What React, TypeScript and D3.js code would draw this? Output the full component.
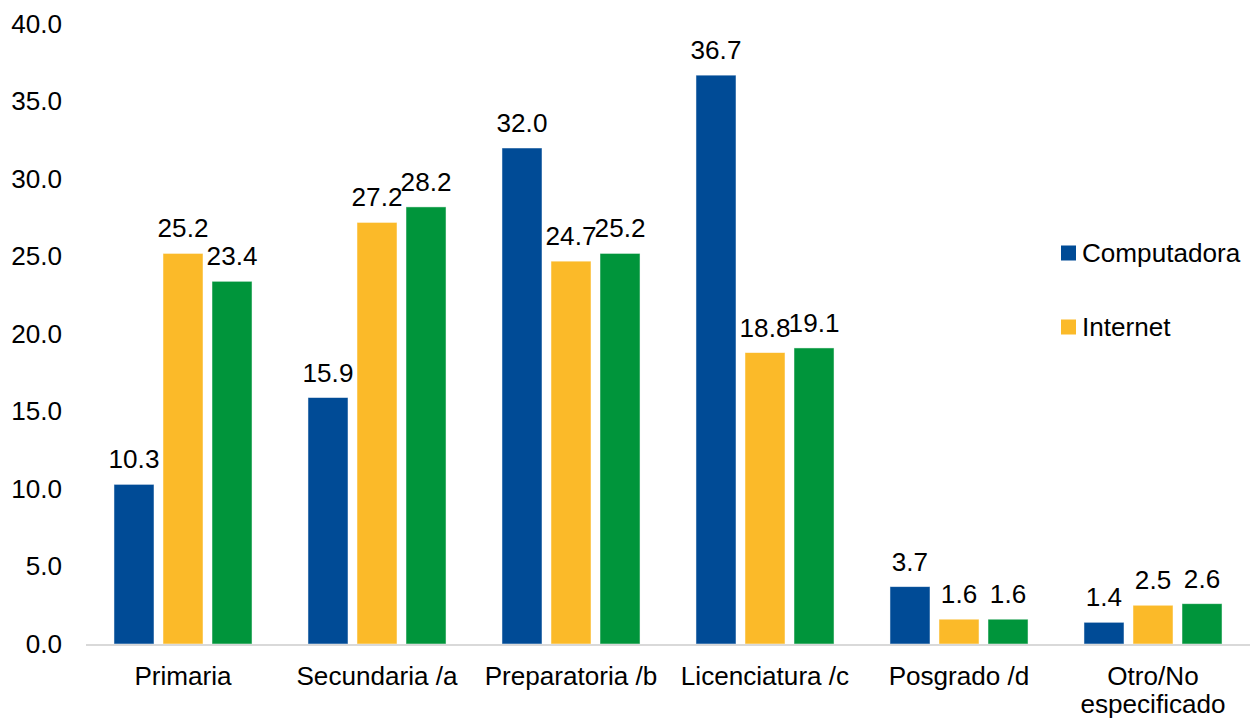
import React from "react";
import * as d3 from "d3";

const categories: string[][] = [
  ["Primaria"],
  ["Secundaria /a"],
  ["Preparatoria /b"],
  ["Licenciatura /c"],
  ["Posgrado /d"],
  ["Otro/No", "especificado"],
];
const seriesNames = ["Computadora", "Internet", "Celular"];
const computadora = [10.3, 15.9, 32.0, 36.7, 3.7, 1.4];
const internet = [25.2, 27.2, 24.7, 18.8, 1.6, 2.5];
const tercera = [23.4, 28.2, 25.2, 19.1, 1.6, 2.6];
const yTicks = [0, 5, 10, 15, 20, 25, 30, 35, 40];
const legendShown = ["Computadora", "Internet"];

const colors = ["#004B96", "#FBBA29", "#00953B"];
const W = 1250;
const H = 719;
const FONT = "Arial, 'Liberation Sans', sans-serif";
const FS = 25;
const SX = 1.045;

export default function App() {
  const series = [computadora, internet, tercera];
  const catKeys = categories.map((c) => c.join(" "));
  const x = d3.scaleBand<string>().domain(catKeys).range([86, 1250]).padding(0);
  const inner = d3
    .scaleBand<string>()
    .domain(seriesNames)
    .range([0, x.bandwidth()])
    .paddingInner(9 / 49)
    .paddingOuter(0.571);
  const y = d3.scaleLinear().domain([0, 40]).range([644, 24]);
  const legendY = d3.scalePoint<string>().domain(legendShown).range([253, 327]);

  const txt = (
    key: string,
    tx: number,
    ty: number,
    s: string,
    anchor: "start" | "middle" | "end",
    baseline?: string
  ) => (
    <text
      key={key}
      transform={`translate(${tx},${ty}) scale(${SX},1)`}
      textAnchor={anchor}
      dominantBaseline={baseline}
      fontFamily={FONT}
      fontSize={FS}
      fill="#000"
    >
      {s}
    </text>
  );

  return (
    <svg
      width={W}
      height={H}
      style={{ position: "fixed", left: 0, top: 0, background: "#fff" }}
    >
      <rect x={0} y={0} width={W} height={H} fill="#fff" />
      {yTicks.map((t) => txt("yt" + t, 62, y(t), d3.format(".1f")(t), "end", "central"))}
      {series.map((vals, si) =>
        vals.map((v, ci) => {
          const bx = (x(catKeys[ci]) as number) + (inner(seriesNames[si]) as number);
          return (
            <rect
              key={`b${si}-${ci}`}
              x={bx}
              y={y(v)}
              width={inner.bandwidth()}
              height={y(0) - y(v)}
              fill={colors[si]}
              stroke="#ffffff"
              strokeOpacity={0.6}
              strokeWidth={0.8}
            />
          );
        })
      )}
      <line x1={86} x2={1250} y1={y(0) + 1} y2={y(0) + 1} stroke="#d9d9d9" strokeWidth={2} />
      {series.map((vals, si) =>
        vals.map((v, ci) => {
          const cx =
            (x(catKeys[ci]) as number) + (inner(seriesNames[si]) as number) + inner.bandwidth() / 2;
          return txt(`l${si}-${ci}`, cx, y(v) - 16, d3.format(".1f")(v), "middle");
        })
      )}
      {categories.map((lines, ci) =>
        lines.map((ln, li) =>
          txt(
            `c${ci}-${li}`,
            (x(catKeys[ci]) as number) + x.bandwidth() / 2,
            685 + li * 28,
            ln,
            "middle"
          )
        )
      )}
      {legendShown.map((name) => {
        const idx = seriesNames.indexOf(name);
        const ly = legendY(name) as number;
        return (
          <g key={"lg" + name}>
            <rect x={1061} y={ly - 7.5} width={15} height={15} fill={colors[idx]} />
            {txt("lt" + name, 1082, ly, name, "start", "central")}
          </g>
        );
      })}
    </svg>
  );
}
